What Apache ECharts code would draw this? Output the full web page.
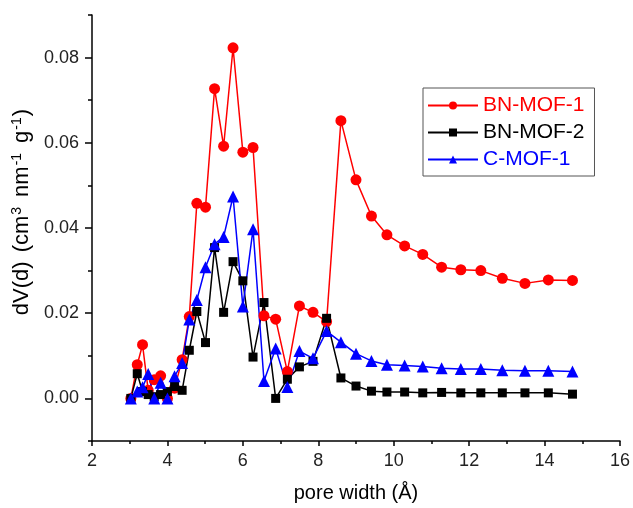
<!DOCTYPE html>
<html>
<head>
<meta charset="utf-8">
<script src="https://cdn.jsdelivr.net/npm/echarts@6/dist/echarts.min.js"></script>
<style>
  html, body { margin: 0; padding: 0; background: #fff; }
  #chart { width: 633px; height: 508px; }
</style>
</head>
<body>
<div id="chart"></div>
<script>
// Pore width (Å) for each point of the distributions
const poreWidth = [3.03, 3.20, 3.34, 3.49, 3.65, 3.82, 4.00, 4.19, 4.39, 4.58, 4.78, 5.01,
  5.25, 5.49, 5.74, 6.00, 6.27, 6.56, 6.87, 7.18, 7.50, 7.86, 8.22, 8.60,
  9.00, 9.41, 9.82, 10.29, 10.77, 11.27, 11.78, 12.31, 12.88, 13.48, 14.10, 14.74];

// dV(d) values, cm3 nm-1 g-1
const bnMof1 = [0, 0.0079, 0.0126, 0.0019, 0.0044, 0.0053, 0, 0.0024, 0.0091, 0.0192, 0.0458, 0.0449,
  0.0727, 0.0592, 0.0823, 0.0578, 0.0589, 0.0194, 0.0186, 0.0063, 0.0217, 0.0202, 0.0180, 0.0652,
  0.0513, 0.0428, 0.0384, 0.0358, 0.0338, 0.0308, 0.0302, 0.0300, 0.0282, 0.0270, 0.0278, 0.0277];
const bnMof2 = [0, 0.0058, 0.0016, 0.0009, 0.0004, 0.0009, 0.0016, 0.0028, 0.0019, 0.0113, 0.0204, 0.0131,
  0.0354, 0.0202, 0.0321, 0.0276, 0.0097, 0.0225, 0, 0.0045, 0.0074, 0.0087, 0.0188, 0.0048,
  0.0029, 0.0017, 0.0015, 0.0015, 0.0013, 0.0014, 0.0013, 0.0013, 0.0013, 0.0013, 0.0013, 0.0010];
const cMof1 = [0, 0.0016, 0.0026, 0.0057, 0, 0.0037, 0, 0.0052, 0.0083, 0.0185, 0.0231, 0.0308,
  0.0362, 0.0379, 0.0474, 0.0216, 0.0397, 0.0041, 0.0117, 0.0027, 0.0111, 0.0094, 0.0158, 0.0132,
  0.0105, 0.0088, 0.0079, 0.0077, 0.0075, 0.0071, 0.0069, 0.0069, 0.0066, 0.0065, 0.0065, 0.0063];

// Tick positions on the value axis
const yMajorTicks = [0, 0.02, 0.04, 0.06, 0.08];
const yMinorTicks = [-0.01, 0.01, 0.03, 0.05, 0.07, 0.09];

const FONT = 'Liberation Sans, Arial, sans-serif';
const toPairs = arr => poreWidth.map((x, i) => [x, arr[i]]);

const chart = echarts.init(document.getElementById('chart'), null, { renderer: 'canvas' });

function lineSeries(name, data, color, symbol, size) {
  return {
    name, type: 'line', data: toPairs(data),
    symbol, symbolSize: size,
    lineStyle: { color, width: 1.5 },
    itemStyle: { color },
    emphasis: { disabled: true },
    animation: false,
    z: 2
  };
}

chart.setOption({
  backgroundColor: '#fff',
  animation: false,
  grid: { left: 92, right: 12, top: 15, bottom: 66 },
  legend: {
    orient: 'vertical',
    left: 423, top: 88,
    padding: [7, 10, 6, 4],
    itemWidth: 50, itemHeight: 10, itemGap: 6,
    borderColor: '#555', borderWidth: 1,
    textStyle: { fontSize: 21, fontFamily: FONT },
    data: [
      { name: 'BN-MOF-1', textStyle: { color: '#ff0000' } },
      { name: 'BN-MOF-2', textStyle: { color: '#000000' } },
      { name: 'C-MOF-1', textStyle: { color: '#0000ff' } }
    ]
  },
  xAxis: {
    type: 'value', min: 2, max: 16, interval: 2,
    name: 'pore width (Å)', nameLocation: 'middle', nameGap: 42,
    nameTextStyle: { fontSize: 20, fontFamily: FONT, color: '#000' },
    axisLine: { show: true, onZero: false, lineStyle: { color: '#000', width: 1.5 } },
    axisTick: { show: true, length: 5, lineStyle: { color: '#000', width: 1.5 } },
    minorTick: { show: true, splitNumber: 2, length: 3, lineStyle: { color: '#000', width: 1.5 } },
    axisLabel: { fontSize: 18, fontFamily: FONT, color: '#222', margin: 11 },
    splitLine: { show: false }
  },
  yAxis: [
    {
      type: 'value', min: -0.01, max: 0.09, interval: 0.01, position: 'left',
      name: 'dV(d){g| }(cm{sup|3}{g| }nm{sup|-1}{g| }g{sup|-1})',
      nameLocation: 'middle', nameRotate: 90, nameGap: 33,
      nameTextStyle: {
        fontSize: 22, fontFamily: FONT, color: '#000', padding: [0, 0, 0, 32],
        rich: {
          sup: { fontSize: 14, fontFamily: FONT, color: '#000', verticalAlign: 'top', padding: [0, 1, 9, 1] },
          g: { fontSize: 22, fontFamily: FONT, width: 9 }
        }
      },
      axisLine: { show: true, onZero: false, lineStyle: { color: '#000', width: 1.5 } },
      axisTick: { show: true, length: 7, customValues: yMajorTicks, lineStyle: { color: '#000', width: 1.5 } },
      axisLabel: { customValues: yMajorTicks, formatter: v => v.toFixed(2), fontSize: 18, fontFamily: FONT, color: '#222', margin: 13 },
      splitLine: { show: false }
    },
    {
      type: 'value', min: -0.01, max: 0.09, interval: 0.01, position: 'left', offset: 0,
      axisLine: { show: false, onZero: false },
      axisTick: { show: true, length: 4, customValues: yMinorTicks, lineStyle: { color: '#000', width: 1.5 } },
      axisLabel: { show: false },
      splitLine: { show: false }
    }
  ],
  series: [
    lineSeries('BN-MOF-1', bnMof1, '#ff0000', 'circle', 11),
    lineSeries('BN-MOF-2', bnMof2, '#000000', 'rect', 9),
    lineSeries('C-MOF-1', cMof1, '#0000ff', 'triangle', 12)
  ]
});
</script>
</body>
</html>
